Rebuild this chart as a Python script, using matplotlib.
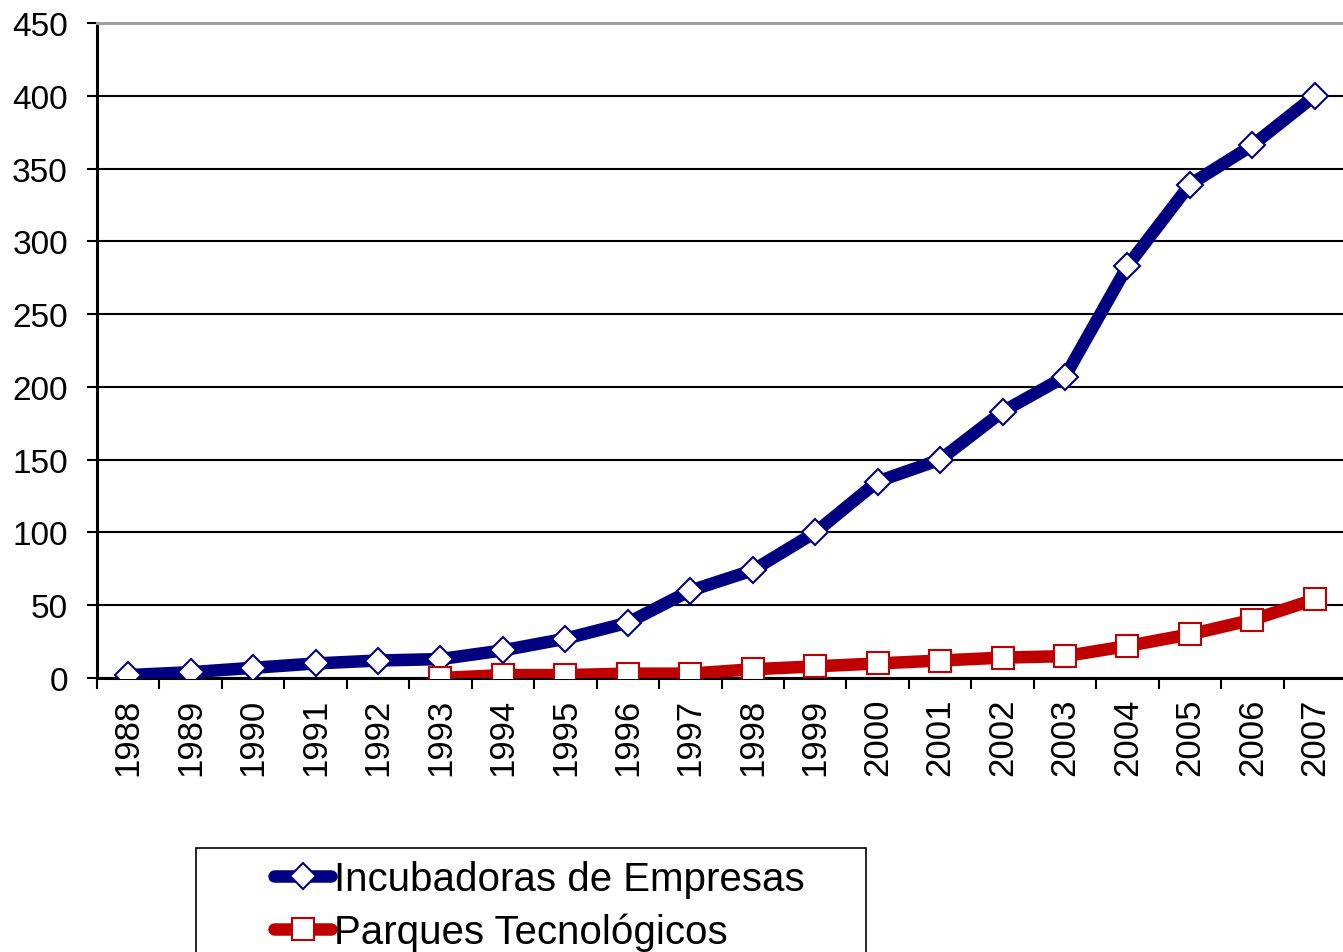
import numpy as np
import matplotlib.pyplot as plt
from matplotlib.patches import Rectangle
from matplotlib.ticker import MultipleLocator

plt.rcParams['font.family'] = ['Liberation Sans', 'DejaVu Sans']

# Données
anos = ['1988', '1989', '1990', '1991', '1992', '1993', '1994', '1995', '1996', '1997',
        '1998', '1999', '2000', '2001', '2002', '2003', '2004', '2005', '2006', '2007']
incubadoras = [2, 4, 7, 10, 12, 13, 19, 27, 38, 60,
               74, 100, 135, 150, 183, 207, 283, 339, 366, 400]
parques = [np.nan, np.nan, np.nan, np.nan, np.nan, 0, 2, 2, 3, 3,
           6, 8, 10, 12, 14, 15, 22, 30, 40, 54]

azul = '#000080'
vermelho = '#C00000'

fig = plt.figure(figsize=(13.43, 9.53), dpi=100)
ax = fig.add_axes([97/1343, 274/953, 1249/1343, 655/953])

x = np.arange(len(anos))
ax.plot(x, incubadoras, color=azul, lw=9, marker='D', ms=13.5,
        mfc='white', mec=azul, mew=1.5, solid_capstyle='round',
        solid_joinstyle='round', label='Incubadoras de Empresas', zorder=3)
ax.plot(x, parques, color=vermelho, lw=9, marker='s', ms=16.5,
        mfc='white', mec=vermelho, mew=1.5, solid_capstyle='round',
        solid_joinstyle='round', label='Parques Tecnológicos', zorder=4)

ax.set_xlim(-0.5, len(anos) - 0.5)
ax.set_ylim(0, 450)
ax.yaxis.set_major_locator(MultipleLocator(50))
ax.grid(axis='y', color='black', lw=1.5)
ax.set_axisbelow(True)

# ticks entre les catégories
ax.set_xticks(x)
ax.set_xticklabels(anos, rotation=90, fontsize=25)
ax.set_xticks(np.arange(-0.5, len(anos), 1), minor=True)
ax.tick_params(axis='x', which='major', length=0, pad=14)
ax.tick_params(axis='x', which='minor', length=8, width=1.5, color='black')
ax.tick_params(axis='y', length=7, width=1.5, labelsize=24, pad=14)

for s in ['left', 'bottom']:
    ax.spines[s].set_linewidth(2.2)
    ax.spines[s].set_color('black')
ax.spines['top'].set_color('#A0A0A0')
ax.spines['top'].set_linewidth(2.2)
ax.spines['right'].set_visible(False)

# Légende
fig.patches.append(Rectangle((196/1343, -0.01), 670/1343, (953-849)/953 + 0.01,
                             transform=fig.transFigure, fill=False,
                             edgecolor='black', lw=1.2))
fig.legend(loc='upper left', bbox_to_anchor=(274/1343, 1 - 861/953),
           frameon=False, fontsize=29, numpoints=1, handlelength=1.42,
           handletextpad=0.08, labelspacing=0.36, borderpad=0,
           borderaxespad=0)

fig.savefig('out.png', dpi=100)
